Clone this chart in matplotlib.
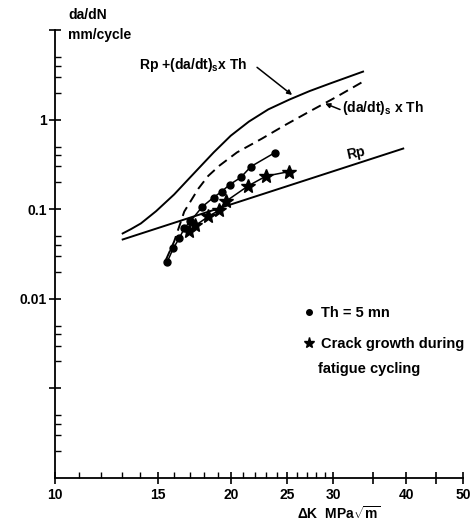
import matplotlib
matplotlib.use('Agg')
import matplotlib.pyplot as plt
from matplotlib.lines import Line2D

plt.rcParams['font.family'] = ['Liberation Sans', 'DejaVu Sans']
plt.rcParams['font.weight'] = 'bold'
plt.rcParams['mathtext.fontset'] = 'custom'
plt.rcParams['mathtext.rm'] = 'Liberation Sans:bold'
plt.rcParams['mathtext.it'] = 'Liberation Sans:bold'
plt.rcParams['mathtext.bf'] = 'Liberation Sans:bold'

# values: dK in MPa sqrt(m), da/dN in mm/cycle
dk_th = [15.56, 15.94, 16.32, 16.65, 17.05, 17.89, 18.69, 19.29, 19.92, 20.81, 21.66, 23.83]
dadn_th = [0.0255, 0.0365, 0.0471, 0.061, 0.073, 0.107, 0.135, 0.157, 0.188, 0.226, 0.299, 0.429]

dk_fat = [16.98, 17.40, 18.32, 19.07, 19.61, 21.40, 22.99, 25.20]
dadn_fat = [0.0564, 0.0658, 0.083, 0.0968, 0.122, 0.181, 0.234, 0.263]

dk_sum = [13.06, 13.5, 14.03, 14.9, 16.0, 16.8, 17.61, 18.7, 20.0, 21.49, 23.2, 25.2, 27.3, 29.56, 33.71]
dadn_sum = [0.0536, 0.060, 0.0693, 0.095, 0.146, 0.205, 0.284, 0.43, 0.66, 0.95, 1.30, 1.67, 2.08, 2.52, 3.43]

dk_dadt = [15.5, 16.0, 16.65, 17.61, 18.3, 19.14, 20.5, 22.63, 24.8, 27.29, 30.3, 33.71]
dadn_dadt = [0.0275, 0.0436, 0.094, 0.170, 0.235, 0.307, 0.43, 0.614, 0.87, 1.23, 1.78, 2.65]

dk_rp = [13.06, 39.5]
dadn_rp = [0.0459, 0.475]

x_major = [10, 15, 20, 25, 30, 35, 40, 45, 50]
x_labels = ['10', '15', '20', '25', '30', '', '40', '', '50']
x_minor = [11, 12, 13, 14, 16, 17, 18, 19, 21, 22, 23, 24, 26, 27, 28, 29]
y_major = [1e-3, 1e-2, 1e-1, 1, 10]
y_labels = ['', '0.01', '0.1', '1', '']

fig = plt.figure(figsize=(4.75, 5.21), dpi=100)
ax = fig.add_axes([0.1158, 0.0825, 0.8589, 0.86])
ax.set_xscale('log')
ax.set_yscale('log')
ax.set_xlim(10, 50)
ax.set_ylim(1e-4, 10)

ax.plot(dk_sum, dadn_sum, '-', color='black', lw=1.4)
ax.plot(dk_dadt, dadn_dadt, color='black', lw=1.4, dashes=(5, 3))
ax.plot(dk_rp, dadn_rp, '-', color='black', lw=1.4)
ax.plot(dk_th, dadn_th, '-o', color='black', lw=1.1, ms=5)
ax.plot(dk_fat, dadn_fat, '-*', color='black', lw=1.1, ms=10)

for s in ['top', 'right']:
    ax.spines[s].set_visible(False)
for s in ['left', 'bottom']:
    ax.spines[s].set_linewidth(1.3)

ax.set_xticks(x_major)
ax.set_xticklabels(x_labels)
ax.set_xticks(x_minor, minor=True)
ax.set_xticklabels([], minor=True)
ax.set_yticks(y_major)
ax.set_yticklabels(y_labels)
y_minor = [m * d for d in [1e-4, 1e-3, 1e-2, 1e-1, 1] for m in [2, 3, 4, 5]]
ax.set_yticks(y_minor, minor=True)
ax.set_yticklabels([], minor=True)
ax.tick_params(which='major', direction='inout', length=8, width=1.2, labelsize=10, pad=3)
ax.tick_params(which='minor', direction='in', length=4, width=1.0)
ax.tick_params(axis='y', which='major', pad=2)

ax.text(13.92, 4.1, r'Rp +(da/dt)$_{\mathrm{s}}$x Th', fontsize=10, va='center')
ax.annotate('', xy=(25.7, 1.8), xytext=(22.0, 4.0),
            arrowprops=dict(arrowstyle='-|>', color='black', lw=1.1, mutation_scale=7))
ax.text(31.0, 1.33, r'(da/dt)$_{\mathrm{s}}$ x Th', fontsize=10, va='center')
ax.annotate('', xy=(28.74, 1.55), xytext=(31.1, 1.26),
            arrowprops=dict(arrowstyle='-|>', color='black', lw=1.1, mutation_scale=7))
ax.text(31.4, 0.42, 'Rp', fontsize=10, va='center', rotation=12)

handles = [Line2D([], [], marker='o', ls='none', color='black', ms=4),
           Line2D([], [], marker='*', ls='none', color='black', ms=8)]
ax.legend(handles, ['Th = 5 mn', 'Crack growth during'], loc='upper left',
          bbox_to_anchor=(0.608, 0.384), frameon=False, fontsize=10.5,
          handlelength=0.8, handletextpad=0.4, labelspacing=1.2, borderpad=0,
          borderaxespad=0)
ax.text(0.645, 0.243, 'fatigue cycling', transform=ax.transAxes, fontsize=10.5, va='center')

fig.text(0.143, 0.971, 'da/dN', fontsize=10, va='center')
fig.text(0.143, 0.933, 'mm/cycle', fontsize=10, va='center')
fig.text(0.625, 0.015, r'$\Delta$K  MPa$\sqrt{\mathrm{m}}$', fontsize=10, va='center')

fig.savefig('out.png', dpi=100)
